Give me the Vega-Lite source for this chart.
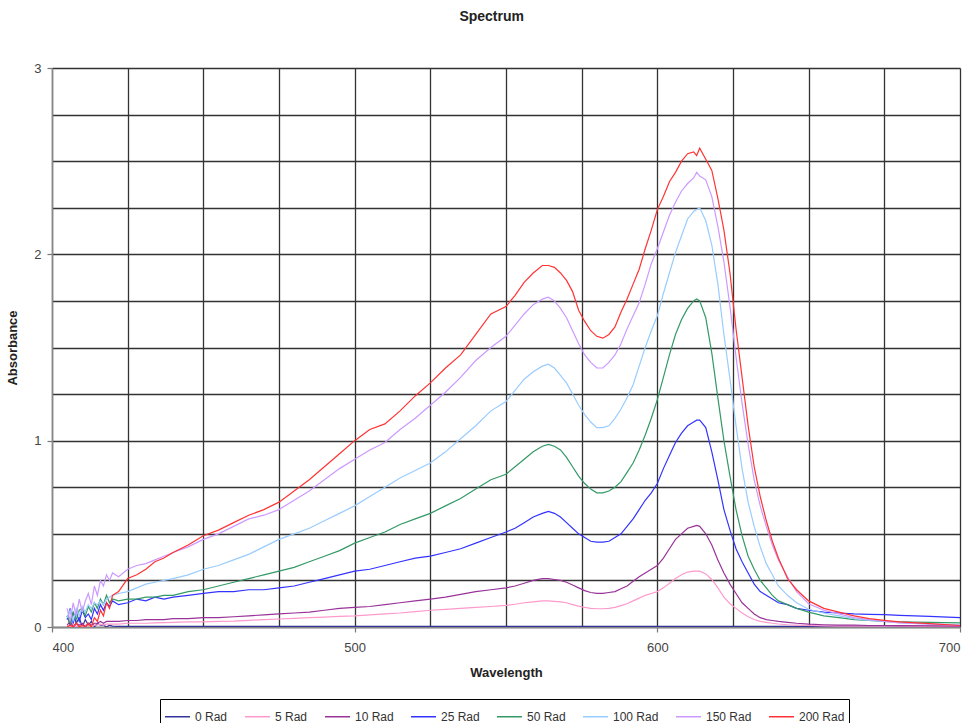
{
  "$schema": "https://vega.github.io/schema/vega-lite/v6.json",
  "width": 908,
  "height": 559,
  "autosize": {"type": "none"},
  "padding": {"left": 52, "top": 68, "right": 12, "bottom": 96},
  "background": "white",
  "title": {"text": "Spectrum", "font": "Liberation Sans", "fontSize": 14, "fontWeight": "bold", "color": "#222", "anchor": "middle", "frame": "bounds", "offset": 38, "dx": 8},
  "data": {"values": [
    {"w":405,"0 Rad":0.06,"5 Rad":0.01,"10 Rad":0.01,"25 Rad":0.04,"50 Rad":0.06,"100 Rad":0.05,"150 Rad":0.10,"200 Rad":0.00},
    {"w":406,"0 Rad":0.01,"5 Rad":0.00,"10 Rad":0.03,"25 Rad":0.10,"50 Rad":0.02,"100 Rad":0.09,"150 Rad":0.03,"200 Rad":0.01},
    {"w":407,"0 Rad":0.08,"5 Rad":0.02,"10 Rad":0.00,"25 Rad":0.02,"50 Rad":0.08,"100 Rad":0.03,"150 Rad":0.13,"200 Rad":0.00},
    {"w":408,"0 Rad":0.02,"5 Rad":0.00,"10 Rad":0.02,"25 Rad":0.08,"50 Rad":0.04,"100 Rad":0.10,"150 Rad":0.06,"200 Rad":0.02},
    {"w":409,"0 Rad":0.05,"5 Rad":0.01,"10 Rad":0.01,"25 Rad":0.03,"50 Rad":0.09,"100 Rad":0.06,"150 Rad":0.15,"200 Rad":0.00},
    {"w":410,"0 Rad":0.00,"5 Rad":0.00,"10 Rad":0.02,"25 Rad":0.09,"50 Rad":0.10,"100 Rad":0.11,"150 Rad":0.08,"200 Rad":0.01},
    {"w":411,"0 Rad":0.04,"5 Rad":0.01,"10 Rad":0.00,"25 Rad":0.05,"50 Rad":0.06,"100 Rad":0.08,"150 Rad":0.14,"200 Rad":0.00},
    {"w":412,"0 Rad":0.01,"5 Rad":0.01,"10 Rad":0.02,"25 Rad":0.07,"50 Rad":0.11,"100 Rad":0.12,"150 Rad":0.18,"200 Rad":0.02},
    {"w":413,"0 Rad":0.03,"5 Rad":0.00,"10 Rad":0.01,"25 Rad":0.04,"50 Rad":0.08,"100 Rad":0.10,"150 Rad":0.12,"200 Rad":0.00},
    {"w":414,"0 Rad":0.00,"5 Rad":0.01,"10 Rad":0.02,"25 Rad":0.10,"50 Rad":0.13,"100 Rad":0.13,"150 Rad":0.22,"200 Rad":0.05},
    {"w":415,"0 Rad":0.02,"5 Rad":0.01,"10 Rad":0.02,"25 Rad":0.07,"50 Rad":0.10,"100 Rad":0.12,"150 Rad":0.17,"200 Rad":0.03},
    {"w":416,"0 Rad":0.01,"5 Rad":0.015,"10 Rad":0.03,"25 Rad":0.12,"50 Rad":0.15,"100 Rad":0.14,"150 Rad":0.25,"200 Rad":0.09},
    {"w":417,"0 Rad":0.01,"5 Rad":0.01,"10 Rad":0.02,"25 Rad":0.09,"50 Rad":0.12,"100 Rad":0.12,"150 Rad":0.22,"200 Rad":0.06},
    {"w":418,"0 Rad":0.00,"5 Rad":0.015,"10 Rad":0.03,"25 Rad":0.13,"50 Rad":0.17,"100 Rad":0.15,"150 Rad":0.28,"200 Rad":0.13},
    {"w":419,"0 Rad":0.01,"5 Rad":0.015,"10 Rad":0.03,"25 Rad":0.11,"50 Rad":0.13,"100 Rad":0.16,"150 Rad":0.25,"200 Rad":0.10},
    {"w":420,"0 Rad":0.005,"5 Rad":0.015,"10 Rad":0.03,"25 Rad":0.14,"50 Rad":0.15,"100 Rad":0.17,"150 Rad":0.29,"200 Rad":0.17},
    {"w":422,"0 Rad":0.003,"5 Rad":0.015,"10 Rad":0.03,"25 Rad":0.12,"50 Rad":0.14,"100 Rad":0.18,"150 Rad":0.27,"200 Rad":0.19},
    {"w":425,"0 Rad":0.003,"5 Rad":0.02,"10 Rad":0.035,"25 Rad":0.13,"50 Rad":0.15,"100 Rad":0.19,"150 Rad":0.31,"200 Rad":0.26},
    {"w":428,"0 Rad":0.003,"5 Rad":0.02,"10 Rad":0.035,"25 Rad":0.15,"50 Rad":0.15,"100 Rad":0.21,"150 Rad":0.33,"200 Rad":0.28},
    {"w":431,"0 Rad":0.003,"5 Rad":0.02,"10 Rad":0.04,"25 Rad":0.14,"50 Rad":0.16,"100 Rad":0.23,"150 Rad":0.34,"200 Rad":0.31},
    {"w":434,"0 Rad":0.003,"5 Rad":0.022,"10 Rad":0.04,"25 Rad":0.16,"50 Rad":0.16,"100 Rad":0.24,"150 Rad":0.36,"200 Rad":0.35},
    {"w":437,"0 Rad":0.003,"5 Rad":0.024,"10 Rad":0.04,"25 Rad":0.15,"50 Rad":0.17,"100 Rad":0.25,"150 Rad":0.38,"200 Rad":0.37},
    {"w":440,"0 Rad":0.003,"5 Rad":0.025,"10 Rad":0.045,"25 Rad":0.16,"50 Rad":0.17,"100 Rad":0.26,"150 Rad":0.40,"200 Rad":0.40},
    {"w":445,"0 Rad":0.003,"5 Rad":0.027,"10 Rad":0.045,"25 Rad":0.17,"50 Rad":0.19,"100 Rad":0.28,"150 Rad":0.43,"200 Rad":0.44},
    {"w":450,"0 Rad":0.003,"5 Rad":0.028,"10 Rad":0.05,"25 Rad":0.18,"50 Rad":0.20,"100 Rad":0.31,"150 Rad":0.47,"200 Rad":0.49},
    {"w":455,"0 Rad":0.003,"5 Rad":0.03,"10 Rad":0.05,"25 Rad":0.19,"50 Rad":0.22,"100 Rad":0.33,"150 Rad":0.50,"200 Rad":0.52},
    {"w":460,"0 Rad":0.003,"5 Rad":0.032,"10 Rad":0.055,"25 Rad":0.19,"50 Rad":0.24,"100 Rad":0.36,"150 Rad":0.54,"200 Rad":0.56},
    {"w":465,"0 Rad":0.003,"5 Rad":0.036,"10 Rad":0.06,"25 Rad":0.20,"50 Rad":0.26,"100 Rad":0.39,"150 Rad":0.58,"200 Rad":0.60},
    {"w":470,"0 Rad":0.003,"5 Rad":0.04,"10 Rad":0.065,"25 Rad":0.20,"50 Rad":0.28,"100 Rad":0.43,"150 Rad":0.60,"200 Rad":0.63},
    {"w":475,"0 Rad":0.003,"5 Rad":0.043,"10 Rad":0.07,"25 Rad":0.21,"50 Rad":0.30,"100 Rad":0.47,"150 Rad":0.63,"200 Rad":0.67},
    {"w":480,"0 Rad":0.003,"5 Rad":0.046,"10 Rad":0.075,"25 Rad":0.22,"50 Rad":0.32,"100 Rad":0.50,"150 Rad":0.68,"200 Rad":0.73},
    {"w":485,"0 Rad":0.003,"5 Rad":0.05,"10 Rad":0.08,"25 Rad":0.24,"50 Rad":0.35,"100 Rad":0.53,"150 Rad":0.73,"200 Rad":0.79},
    {"w":490,"0 Rad":0.003,"5 Rad":0.053,"10 Rad":0.09,"25 Rad":0.26,"50 Rad":0.38,"100 Rad":0.57,"150 Rad":0.79,"200 Rad":0.86},
    {"w":495,"0 Rad":0.003,"5 Rad":0.057,"10 Rad":0.10,"25 Rad":0.28,"50 Rad":0.41,"100 Rad":0.61,"150 Rad":0.85,"200 Rad":0.93},
    {"w":500,"0 Rad":0.003,"5 Rad":0.06,"10 Rad":0.105,"25 Rad":0.30,"50 Rad":0.45,"100 Rad":0.65,"150 Rad":0.90,"200 Rad":1.00},
    {"w":505,"0 Rad":0.003,"5 Rad":0.065,"10 Rad":0.11,"25 Rad":0.31,"50 Rad":0.48,"100 Rad":0.70,"150 Rad":0.95,"200 Rad":1.06},
    {"w":510,"0 Rad":0.003,"5 Rad":0.07,"10 Rad":0.12,"25 Rad":0.33,"50 Rad":0.51,"100 Rad":0.75,"150 Rad":0.99,"200 Rad":1.09},
    {"w":515,"0 Rad":0.003,"5 Rad":0.075,"10 Rad":0.13,"25 Rad":0.35,"50 Rad":0.55,"100 Rad":0.80,"150 Rad":1.06,"200 Rad":1.16},
    {"w":520,"0 Rad":0.003,"5 Rad":0.082,"10 Rad":0.14,"25 Rad":0.37,"50 Rad":0.58,"100 Rad":0.84,"150 Rad":1.12,"200 Rad":1.24},
    {"w":525,"0 Rad":0.003,"5 Rad":0.09,"10 Rad":0.15,"25 Rad":0.38,"50 Rad":0.61,"100 Rad":0.88,"150 Rad":1.19,"200 Rad":1.31},
    {"w":530,"0 Rad":0.003,"5 Rad":0.095,"10 Rad":0.16,"25 Rad":0.40,"50 Rad":0.65,"100 Rad":0.94,"150 Rad":1.26,"200 Rad":1.39},
    {"w":535,"0 Rad":0.003,"5 Rad":0.10,"10 Rad":0.175,"25 Rad":0.42,"50 Rad":0.69,"100 Rad":1.01,"150 Rad":1.34,"200 Rad":1.46},
    {"w":540,"0 Rad":0.003,"5 Rad":0.105,"10 Rad":0.19,"25 Rad":0.45,"50 Rad":0.74,"100 Rad":1.08,"150 Rad":1.43,"200 Rad":1.57},
    {"w":545,"0 Rad":0.003,"5 Rad":0.11,"10 Rad":0.20,"25 Rad":0.48,"50 Rad":0.79,"100 Rad":1.16,"150 Rad":1.50,"200 Rad":1.68},
    {"w":550,"0 Rad":0.003,"5 Rad":0.116,"10 Rad":0.21,"25 Rad":0.51,"50 Rad":0.82,"100 Rad":1.21,"150 Rad":1.56,"200 Rad":1.72},
    {"w":553,"0 Rad":0.003,"5 Rad":0.122,"10 Rad":0.22,"25 Rad":0.53,"50 Rad":0.86,"100 Rad":1.27,"150 Rad":1.62,"200 Rad":1.78},
    {"w":556,"0 Rad":0.003,"5 Rad":0.13,"10 Rad":0.235,"25 Rad":0.56,"50 Rad":0.90,"100 Rad":1.33,"150 Rad":1.68,"200 Rad":1.85},
    {"w":559,"0 Rad":0.003,"5 Rad":0.135,"10 Rad":0.25,"25 Rad":0.59,"50 Rad":0.94,"100 Rad":1.37,"150 Rad":1.73,"200 Rad":1.90},
    {"w":562,"0 Rad":0.003,"5 Rad":0.14,"10 Rad":0.26,"25 Rad":0.61,"50 Rad":0.97,"100 Rad":1.40,"150 Rad":1.76,"200 Rad":1.94},
    {"w":564,"0 Rad":0.003,"5 Rad":0.14,"10 Rad":0.26,"25 Rad":0.62,"50 Rad":0.98,"100 Rad":1.41,"150 Rad":1.77,"200 Rad":1.94},
    {"w":566,"0 Rad":0.003,"5 Rad":0.138,"10 Rad":0.255,"25 Rad":0.61,"50 Rad":0.97,"100 Rad":1.39,"150 Rad":1.75,"200 Rad":1.93},
    {"w":568,"0 Rad":0.003,"5 Rad":0.135,"10 Rad":0.25,"25 Rad":0.59,"50 Rad":0.95,"100 Rad":1.35,"150 Rad":1.71,"200 Rad":1.90},
    {"w":570,"0 Rad":0.003,"5 Rad":0.13,"10 Rad":0.24,"25 Rad":0.56,"50 Rad":0.91,"100 Rad":1.31,"150 Rad":1.66,"200 Rad":1.86},
    {"w":572,"0 Rad":0.003,"5 Rad":0.12,"10 Rad":0.225,"25 Rad":0.53,"50 Rad":0.86,"100 Rad":1.25,"150 Rad":1.59,"200 Rad":1.80},
    {"w":574,"0 Rad":0.003,"5 Rad":0.112,"10 Rad":0.21,"25 Rad":0.50,"50 Rad":0.81,"100 Rad":1.19,"150 Rad":1.52,"200 Rad":1.70},
    {"w":576,"0 Rad":0.003,"5 Rad":0.105,"10 Rad":0.195,"25 Rad":0.48,"50 Rad":0.77,"100 Rad":1.14,"150 Rad":1.46,"200 Rad":1.64},
    {"w":578,"0 Rad":0.003,"5 Rad":0.10,"10 Rad":0.185,"25 Rad":0.46,"50 Rad":0.74,"100 Rad":1.10,"150 Rad":1.42,"200 Rad":1.59},
    {"w":580,"0 Rad":0.003,"5 Rad":0.098,"10 Rad":0.18,"25 Rad":0.455,"50 Rad":0.72,"100 Rad":1.07,"150 Rad":1.39,"200 Rad":1.56},
    {"w":582,"0 Rad":0.003,"5 Rad":0.098,"10 Rad":0.18,"25 Rad":0.455,"50 Rad":0.72,"100 Rad":1.07,"150 Rad":1.39,"200 Rad":1.55},
    {"w":584,"0 Rad":0.003,"5 Rad":0.10,"10 Rad":0.185,"25 Rad":0.46,"50 Rad":0.73,"100 Rad":1.08,"150 Rad":1.42,"200 Rad":1.57},
    {"w":586,"0 Rad":0.003,"5 Rad":0.105,"10 Rad":0.19,"25 Rad":0.48,"50 Rad":0.75,"100 Rad":1.12,"150 Rad":1.46,"200 Rad":1.61},
    {"w":588,"0 Rad":0.003,"5 Rad":0.115,"10 Rad":0.205,"25 Rad":0.50,"50 Rad":0.78,"100 Rad":1.17,"150 Rad":1.52,"200 Rad":1.69},
    {"w":590,"0 Rad":0.003,"5 Rad":0.125,"10 Rad":0.22,"25 Rad":0.54,"50 Rad":0.83,"100 Rad":1.23,"150 Rad":1.60,"200 Rad":1.76},
    {"w":592,"0 Rad":0.003,"5 Rad":0.14,"10 Rad":0.245,"25 Rad":0.58,"50 Rad":0.88,"100 Rad":1.30,"150 Rad":1.67,"200 Rad":1.84},
    {"w":594,"0 Rad":0.003,"5 Rad":0.155,"10 Rad":0.27,"25 Rad":0.63,"50 Rad":0.95,"100 Rad":1.40,"150 Rad":1.74,"200 Rad":1.92},
    {"w":596,"0 Rad":0.003,"5 Rad":0.17,"10 Rad":0.29,"25 Rad":0.68,"50 Rad":1.03,"100 Rad":1.50,"150 Rad":1.84,"200 Rad":2.03},
    {"w":598,"0 Rad":0.003,"5 Rad":0.18,"10 Rad":0.31,"25 Rad":0.72,"50 Rad":1.12,"100 Rad":1.59,"150 Rad":1.95,"200 Rad":2.13},
    {"w":600,"0 Rad":0.003,"5 Rad":0.19,"10 Rad":0.33,"25 Rad":0.77,"50 Rad":1.22,"100 Rad":1.67,"150 Rad":2.03,"200 Rad":2.24},
    {"w":602,"0 Rad":0.003,"5 Rad":0.21,"10 Rad":0.37,"25 Rad":0.85,"50 Rad":1.34,"100 Rad":1.79,"150 Rad":2.12,"200 Rad":2.31},
    {"w":604,"0 Rad":0.003,"5 Rad":0.235,"10 Rad":0.42,"25 Rad":0.92,"50 Rad":1.46,"100 Rad":1.90,"150 Rad":2.21,"200 Rad":2.39},
    {"w":606,"0 Rad":0.003,"5 Rad":0.26,"10 Rad":0.47,"25 Rad":0.99,"50 Rad":1.57,"100 Rad":2.01,"150 Rad":2.28,"200 Rad":2.44},
    {"w":608,"0 Rad":0.003,"5 Rad":0.28,"10 Rad":0.50,"25 Rad":1.04,"50 Rad":1.65,"100 Rad":2.10,"150 Rad":2.34,"200 Rad":2.50},
    {"w":610,"0 Rad":0.003,"5 Rad":0.295,"10 Rad":0.53,"25 Rad":1.08,"50 Rad":1.71,"100 Rad":2.19,"150 Rad":2.38,"200 Rad":2.54},
    {"w":612,"0 Rad":0.003,"5 Rad":0.30,"10 Rad":0.54,"25 Rad":1.10,"50 Rad":1.75,"100 Rad":2.23,"150 Rad":2.41,"200 Rad":2.55},
    {"w":613,"0 Rad":0.003,"5 Rad":0.30,"10 Rad":0.545,"25 Rad":1.11,"50 Rad":1.76,"100 Rad":2.24,"150 Rad":2.44,"200 Rad":2.53},
    {"w":614,"0 Rad":0.003,"5 Rad":0.30,"10 Rad":0.54,"25 Rad":1.11,"50 Rad":1.75,"100 Rad":2.25,"150 Rad":2.42,"200 Rad":2.57},
    {"w":616,"0 Rad":0.003,"5 Rad":0.285,"10 Rad":0.50,"25 Rad":1.07,"50 Rad":1.66,"100 Rad":2.18,"150 Rad":2.40,"200 Rad":2.51},
    {"w":618,"0 Rad":0.003,"5 Rad":0.255,"10 Rad":0.44,"25 Rad":0.94,"50 Rad":1.47,"100 Rad":2.05,"150 Rad":2.31,"200 Rad":2.45},
    {"w":620,"0 Rad":0.003,"5 Rad":0.21,"10 Rad":0.36,"25 Rad":0.79,"50 Rad":1.23,"100 Rad":1.84,"150 Rad":2.15,"200 Rad":2.30},
    {"w":622,"0 Rad":0.003,"5 Rad":0.16,"10 Rad":0.29,"25 Rad":0.63,"50 Rad":1.00,"100 Rad":1.57,"150 Rad":1.96,"200 Rad":2.13},
    {"w":624,"0 Rad":0.003,"5 Rad":0.125,"10 Rad":0.23,"25 Rad":0.52,"50 Rad":0.81,"100 Rad":1.33,"150 Rad":1.72,"200 Rad":1.90},
    {"w":626,"0 Rad":0.003,"5 Rad":0.10,"10 Rad":0.18,"25 Rad":0.42,"50 Rad":0.63,"100 Rad":1.08,"150 Rad":1.45,"200 Rad":1.60},
    {"w":628,"0 Rad":0.003,"5 Rad":0.075,"10 Rad":0.13,"25 Rad":0.35,"50 Rad":0.49,"100 Rad":0.85,"150 Rad":1.20,"200 Rad":1.34},
    {"w":630,"0 Rad":0.003,"5 Rad":0.055,"10 Rad":0.10,"25 Rad":0.29,"50 Rad":0.38,"100 Rad":0.67,"150 Rad":0.98,"200 Rad":1.08},
    {"w":632,"0 Rad":0.003,"5 Rad":0.04,"10 Rad":0.07,"25 Rad":0.23,"50 Rad":0.31,"100 Rad":0.54,"150 Rad":0.79,"200 Rad":0.86},
    {"w":634,"0 Rad":0.003,"5 Rad":0.03,"10 Rad":0.05,"25 Rad":0.19,"50 Rad":0.25,"100 Rad":0.43,"150 Rad":0.65,"200 Rad":0.70},
    {"w":636,"0 Rad":0.003,"5 Rad":0.025,"10 Rad":0.04,"25 Rad":0.17,"50 Rad":0.21,"100 Rad":0.34,"150 Rad":0.54,"200 Rad":0.57},
    {"w":638,"0 Rad":0.003,"5 Rad":0.02,"10 Rad":0.035,"25 Rad":0.15,"50 Rad":0.17,"100 Rad":0.28,"150 Rad":0.44,"200 Rad":0.46},
    {"w":640,"0 Rad":0.003,"5 Rad":0.016,"10 Rad":0.03,"25 Rad":0.13,"50 Rad":0.14,"100 Rad":0.22,"150 Rad":0.36,"200 Rad":0.37},
    {"w":643,"0 Rad":0.003,"5 Rad":0.012,"10 Rad":0.025,"25 Rad":0.12,"50 Rad":0.12,"100 Rad":0.17,"150 Rad":0.27,"200 Rad":0.26},
    {"w":646,"0 Rad":0.003,"5 Rad":0.01,"10 Rad":0.02,"25 Rad":0.10,"50 Rad":0.10,"100 Rad":0.13,"150 Rad":0.19,"200 Rad":0.20},
    {"w":650,"0 Rad":0.003,"5 Rad":0.008,"10 Rad":0.015,"25 Rad":0.09,"50 Rad":0.08,"100 Rad":0.095,"150 Rad":0.125,"200 Rad":0.14},
    {"w":655,"0 Rad":0.003,"5 Rad":0.006,"10 Rad":0.012,"25 Rad":0.08,"50 Rad":0.06,"100 Rad":0.075,"150 Rad":0.09,"200 Rad":0.10},
    {"w":660,"0 Rad":0.003,"5 Rad":0.005,"10 Rad":0.01,"25 Rad":0.075,"50 Rad":0.05,"100 Rad":0.06,"150 Rad":0.07,"200 Rad":0.08},
    {"w":665,"0 Rad":0.003,"5 Rad":0.005,"10 Rad":0.01,"25 Rad":0.07,"50 Rad":0.04,"100 Rad":0.045,"150 Rad":0.05,"200 Rad":0.06},
    {"w":670,"0 Rad":0.003,"5 Rad":0.004,"10 Rad":0.008,"25 Rad":0.068,"50 Rad":0.035,"100 Rad":0.035,"150 Rad":0.04,"200 Rad":0.045},
    {"w":675,"0 Rad":0.003,"5 Rad":0.004,"10 Rad":0.008,"25 Rad":0.066,"50 Rad":0.03,"100 Rad":0.03,"150 Rad":0.03,"200 Rad":0.036},
    {"w":680,"0 Rad":0.003,"5 Rad":0.004,"10 Rad":0.007,"25 Rad":0.062,"50 Rad":0.028,"100 Rad":0.024,"150 Rad":0.022,"200 Rad":0.028},
    {"w":690,"0 Rad":0.003,"5 Rad":0.003,"10 Rad":0.006,"25 Rad":0.057,"50 Rad":0.025,"100 Rad":0.016,"150 Rad":0.015,"200 Rad":0.018},
    {"w":700,"0 Rad":0.003,"5 Rad":0.003,"10 Rad":0.005,"25 Rad":0.05,"50 Rad":0.022,"100 Rad":0.012,"150 Rad":0.01,"200 Rad":0.008}
  ]},
  "transform": [
    {"fold": ["0 Rad", "5 Rad", "10 Rad", "25 Rad", "50 Rad", "100 Rad", "150 Rad", "200 Rad"], "as": ["Series", "Absorbance"]}
  ],
  "mark": {"type": "line", "strokeWidth": 1.2, "clip": true},
  "encoding": {
    "x": {
      "field": "w", "type": "quantitative",
      "scale": {"domain": [400, 700], "nice": false, "zero": false},
      "axis": {
        "title": "Wavelength",
        "values": [400,425,450,475,500,525,550,575,600,625,650,675,700],
        "labelExpr": "datum.value % 100 === 0 ? format(datum.value, 'd') : ''",
        "tickOpacity": {"condition": {"test": "datum.value % 100 === 0", "value": 1}, "value": 0},
        "labelPadding": 9,
        "titlePadding": 12
      }
    },
    "y": {
      "field": "Absorbance", "type": "quantitative",
      "scale": {"domain": [0, 3], "nice": false},
      "axis": {
        "title": "Absorbance",
        "values": [0,0.25,0.5,0.75,1,1.25,1.5,1.75,2,2.25,2.5,2.75,3],
        "labelExpr": "datum.value % 1 === 0 ? format(datum.value, 'd') : ''",
        "tickOpacity": {"condition": {"test": "datum.value % 1 === 0", "value": 1}, "value": 0},
        "labelPadding": 6,
        "titlePadding": 14
      }
    },
    "color": {
      "field": "Series", "type": "nominal",
      "scale": {
        "domain": ["0 Rad", "5 Rad", "10 Rad", "25 Rad", "50 Rad", "100 Rad", "150 Rad", "200 Rad"],
        "range": ["#333399", "#FF99CC", "#993399", "#3333FF", "#339966", "#99CCFF", "#CC99FF", "#FF3333"]
      },
      "legend": {
        "title": null, "orient": "none", "legendX": 108, "legendY": 631,
        "direction": "horizontal", "columns": 8,
        "symbolType": "stroke", "symbolSize": 625, "symbolStrokeWidth": 1.5,
        "labelFont": "Liberation Sans", "labelFontSize": 12, "labelColor": "#333",
        "strokeColor": "#000", "fillColor": "#fff", "padding": 4, "columnPadding": 14, "labelOffset": 4
      }
    }
  },
  "config": {
    "view": {"stroke": null},
    "axis": {
      "grid": true, "gridColor": "#333", "gridWidth": 1.3, "gridOpacity": 1,
      "domainColor": "#888", "domainWidth": 1.5,
      "tickColor": "#777", "tickSize": 5, "tickWidth": 1.2,
      "labelFont": "Liberation Sans", "labelFontSize": 13, "labelColor": "#444",
      "titleFont": "Liberation Sans", "titleFontSize": 13, "titleFontWeight": "bold", "titleColor": "#222"
    }
  }
}
